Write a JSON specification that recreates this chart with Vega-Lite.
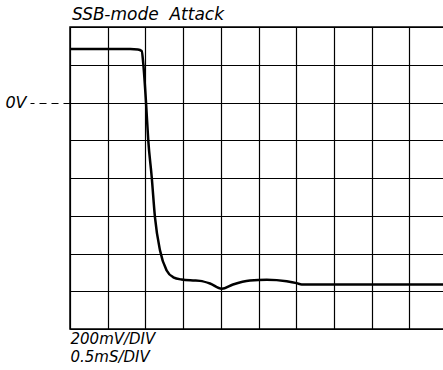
{
  "$schema": "https://vega.github.io/schema/vega-lite/v6.json",
  "autosize": {"type": "none"},
  "padding": {"left": 70, "top": 27, "right": 0, "bottom": 41},
  "width": 377,
  "height": 302,
  "background": "white",
  "title": {
    "text": "SSB-mode\u00a0\u00a0Attack",
    "anchor": "start",
    "frame": "group",
    "font": "DejaVu Sans",
    "fontStyle": "italic",
    "fontWeight": "normal",
    "fontSize": 17,
    "color": "black",
    "offset": 3,
    "dx": 2
  },
  "config": {
    "view": {"stroke": "black", "strokeWidth": 1.5},
    "axis": {"labelFont": "DejaVu Sans", "titleFont": "DejaVu Sans"}
  },
  "data": {
    "values": [
      {"t": 0.0, "v": 0.283},
      {"t": 0.5, "v": 0.283},
      {"t": 0.8, "v": 0.283},
      {"t": 0.9, "v": 0.281},
      {"t": 0.951, "v": 0.273},
      {"t": 0.972, "v": 0.205},
      {"t": 1.008, "v": 0.002},
      {"t": 1.038, "v": -0.201},
      {"t": 1.084, "v": -0.396},
      {"t": 1.127, "v": -0.608},
      {"t": 1.194, "v": -0.784},
      {"t": 1.282, "v": -0.89},
      {"t": 1.37, "v": -0.926},
      {"t": 1.481, "v": -0.938},
      {"t": 1.631, "v": -0.943},
      {"t": 1.724, "v": -0.945},
      {"t": 1.857, "v": -0.959},
      {"t": 2.012, "v": -0.987},
      {"t": 2.162, "v": -0.964},
      {"t": 2.387, "v": -0.943},
      {"t": 2.609, "v": -0.939},
      {"t": 2.874, "v": -0.947},
      {"t": 3.007, "v": -0.957},
      {"t": 3.073, "v": -0.964},
      {"t": 3.488, "v": -0.964},
      {"t": 4.2, "v": -0.964},
      {"t": 5.0, "v": -0.964}
    ]
  },
  "mark": {"type": "line", "color": "black", "strokeWidth": 2.5, "interpolate": "monotone", "clip": true},
  "encoding": {
    "x": {
      "field": "t",
      "type": "quantitative",
      "scale": {"domain": [0, 5], "nice": false, "zero": false},
      "axis": {
        "values": [0, 0.5, 1, 1.5, 2, 2.5, 3, 3.5, 4, 4.5, 5],
        "grid": true,
        "gridColor": "black",
        "gridOpacity": 1,
        "gridWidth": 1.2,
        "domain": false,
        "ticks": false,
        "labels": false,
        "title": ["200mV/DIV", "0.5mS/DIV"],
        "titleFont": "DejaVu Sans",
        "titleFontStyle": "italic",
        "titleFontWeight": "normal",
        "titleFontSize": 15,
        "titleColor": "black",
        "titleAnchor": "start",
        "titleAlign": "left",
        "titleBaseline": "top",
        "titleLineHeight": 18,
        "titlePadding": 2
      }
    },
    "y": {
      "field": "v",
      "type": "quantitative",
      "scale": {"domain": [-1.2, 0.4], "nice": false, "zero": false},
      "axis": {
        "values": [-1.2, -1.0, -0.8, -0.6, -0.4, -0.2, 0, 0.2, 0.4],
        "grid": true,
        "gridColor": "black",
        "gridOpacity": 1,
        "gridWidth": 1.2,
        "domain": false,
        "ticks": true,
        "tickSize": 40,
        "tickColor": "black",
        "tickWidth": 1.2,
        "tickDash": [7, 5],
        "tickOpacity": {"condition": {"test": "datum.value == 0", "value": 1}, "value": 0},
        "labelExpr": "datum.value == 0 ? '0V' : ''",
        "labelFont": "DejaVu Sans",
        "labelFontStyle": "italic",
        "labelFontSize": 16,
        "labelColor": "black",
        "labelPadding": 4,
        "title": null
      }
    }
  }
}
